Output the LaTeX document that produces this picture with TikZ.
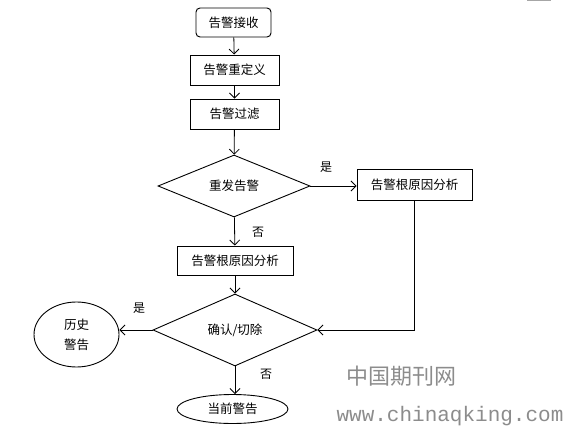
\documentclass[tikz,border=0pt]{standalone}
\usepackage{fontspec}
\newfontfamily\cjk{Noto Sans CJK SC}
\newfontfamily\monof{Liberation Mono}
\usetikzlibrary{shapes.geometric,arrows.meta}
\tikzset{
  every node/.style={font=\cjk\fontsize{12.5}{14}\selectfont, inner sep=0pt},
  rbox/.style={draw, line width=0.95pt, minimum width=#1, minimum height=30pt},
  decide/.style={draw, line width=0.9pt, diamond, aspect=2.45, minimum width=152pt, minimum height=62pt},
  oval/.style={draw, line width=0.9pt, ellipse},
  conn/.style={line width=0.8pt, -{Straight Barb[length=5pt,width=10pt]}},
  lab/.style={font=\cjk\fontsize{12}{14}\selectfont},
}
\begin{document}
\begin{tikzpicture}[x=1pt,y=-1pt]
\useasboundingbox (0,0) rectangle (569,435);
\node[rbox=75pt, rounded corners=4pt, minimum height=29pt] (a) at (233.5,22.5) {告警接收};
\node[rbox=89pt] (b) at (234.5,70) {告警重定义};
\node[rbox=89pt] (c) at (234.5,114) {告警过滤};
\node[decide] (d) at (234,186) {重发告警};
\node[rbox=115pt, minimum height=31pt] (e) at (414.5,184.5) {告警根原因分析};
\node[rbox=116pt, minimum height=29pt] (f) at (235,260.5) {告警根原因分析};
\node[decide, minimum width=164pt, minimum height=72pt, aspect=2.28] (g) at (235,330) {确认/切除};
\node[oval, minimum width=85pt, minimum height=65pt, align=center, font=\cjk\fontsize{12.5}{20}\selectfont] (h) at (76.5,334.5) {历史\\警告};
\node[oval, minimum width=111pt, minimum height=29pt] (i) at (232.5,409) {当前警告};
\coordinate (k) at (e.south |- g.east);
\draw[conn] (a) -- (b);
\draw[conn] (b) -- (c);
\draw[conn] (c) -- (d);
\draw[conn] (d.east) -- (e.west |- d.east);
\draw[conn] (d) -- (f);
\draw[conn] (f) -- (g);
\draw[conn] (e.south) -- (k) -- (g.east);
\draw[conn] (g.west) -- (h.east |- g.west);
\draw[conn] (g.south) -- (i.north -| g.south);
\node[lab] (l1) at (326,167) {是};
\node[lab] (l2) at (258,232) {否};
\node[lab] (l3) at (139,308) {是};
\node[lab] (l4) at (266,374) {否};
\node[font=\cjk\fontsize{22}{24}\selectfont, text=black!45] (w1) at (401,376) {中国期刊网};
\node[font=\monof\fontsize{21}{24}\selectfont, text=black!45] (w2) at (450,416) {www.chinaqking.com};
\draw[black!35, line width=1pt] (527,0.5) -- (551,0.5);
\end{tikzpicture}
\end{document}
